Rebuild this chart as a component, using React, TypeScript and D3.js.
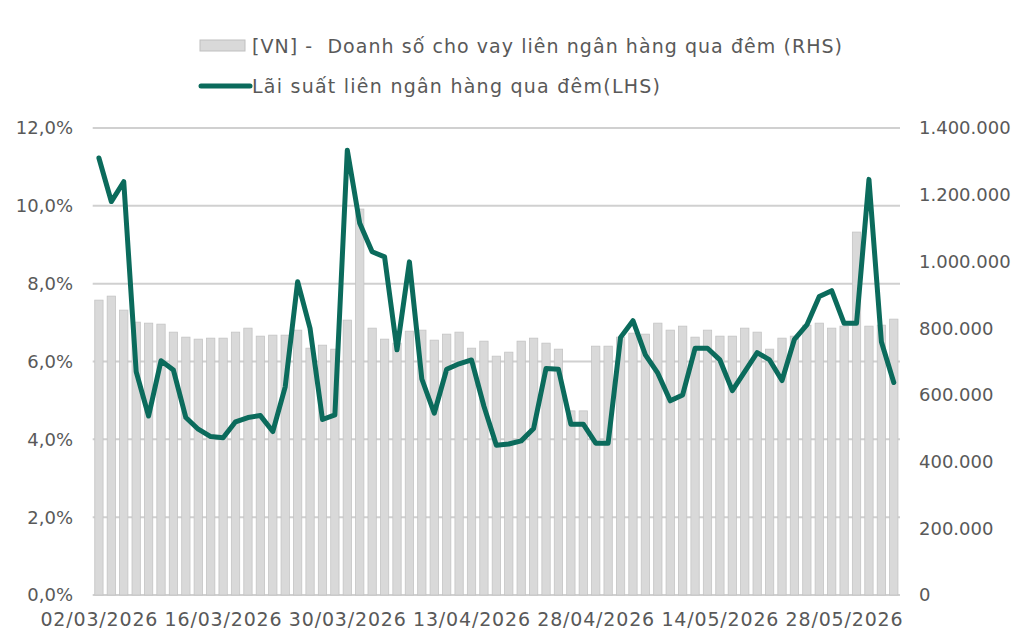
import React from "react";
import * as d3 from "d3";

const dates: string[] = [
  "02/03/2026","03/03/2026","04/03/2026","05/03/2026","06/03/2026",
  "09/03/2026","10/03/2026","11/03/2026","12/03/2026","13/03/2026",
  "16/03/2026","17/03/2026","18/03/2026","19/03/2026","20/03/2026",
  "23/03/2026","24/03/2026","25/03/2026","26/03/2026","27/03/2026",
  "30/03/2026","31/03/2026","01/04/2026","02/04/2026","03/04/2026",
  "06/04/2026","07/04/2026","08/04/2026","09/04/2026","10/04/2026",
  "13/04/2026","14/04/2026","15/04/2026","16/04/2026","17/04/2026",
  "20/04/2026","21/04/2026","22/04/2026","23/04/2026","24/04/2026",
  "28/04/2026","29/04/2026","04/05/2026","05/05/2026","06/05/2026",
  "07/05/2026","08/05/2026","11/05/2026","12/05/2026","13/05/2026",
  "14/05/2026","15/05/2026","18/05/2026","19/05/2026","20/05/2026",
  "21/05/2026","22/05/2026","25/05/2026","26/05/2026","27/05/2026",
  "28/05/2026","29/05/2026","01/06/2026","02/06/2026","03/06/2026",
];

// Doanh số cho vay liên ngân hàng qua đêm (RHS)
const volume: number[] = [
  884000, 896000, 854000, 818000, 815000, 812000, 788000, 773000, 767000, 770000,
  770000, 788000, 800000, 776000, 779000, 779000, 794000, 740000, 749000, 737000,
  824000, 1157000, 800000, 767000, 755000, 791000, 794000, 764000, 782000, 788000,
  740000, 761000, 716000, 728000, 761000, 770000, 755000, 737000, 552000, 552000,
  746000, 746000, 773000, 785000, 782000, 815000, 794000, 806000, 773000, 794000,
  776000, 776000, 800000, 788000, 737000, 770000, 776000, 809000, 815000, 800000,
  806000, 1088000, 806000, 809000, 827000,
];

// Lãi suất liên ngân hàng qua đêm (LHS), %
const rate: number[] = [
  11.23, 10.11, 10.62, 5.74, 4.6, 6.02, 5.78, 4.56, 4.26, 4.07,
  4.04, 4.45, 4.56, 4.61, 4.2, 5.35, 8.05, 6.85, 4.51, 4.63,
  11.43, 9.55, 8.82, 8.69, 6.3, 8.56, 5.55, 4.67, 5.8, 5.94,
  6.04, 4.85, 3.85, 3.88, 3.96, 4.28, 5.82, 5.8, 4.39, 4.39,
  3.9, 3.9, 6.62, 7.05, 6.17, 5.7, 4.99, 5.14, 6.34, 6.34,
  6.04, 5.25, 5.74, 6.23, 6.04, 5.51, 6.57, 6.94, 7.67, 7.82,
  6.98, 6.98, 10.68, 6.51, 5.46,
];

const leftTicks: number[] = [0, 2, 4, 6, 8, 10, 12];
const rightTicks: number[] = [0, 200000, 400000, 600000, 800000, 1000000, 1200000, 1400000];

const barLegend = "[VN] -  Doanh số cho vay liên ngân hàng qua đêm (RHS)";
const lineLegend = "Lãi suất liên ngân hàng qua đêm(LHS)";

const W = 1025;
const H = 632;
const plotLeft = 92.7;
const plotRight = 900;
const plotTop = 128;
const plotBottom = 595;
const FONT = "'DejaVu Sans', sans-serif";
const GREEN = "#0b6b5c";

export default function App() {
  const x = d3
    .scaleBand<string>()
    .domain(dates)
    .range([plotLeft, plotRight])
    .paddingInner(0.33)
    .paddingOuter(0.165);
  const yL = d3.scaleLinear().domain([0, 12]).range([plotBottom, plotTop]);
  const yR = d3.scaleLinear().domain([0, 1400000]).range([plotBottom, plotTop]);

  const line = d3
    .line<number>()
    .x((_, i) => (x(dates[i]) as number) + x.bandwidth() / 2)
    .y((d) => yL(d));

  const fmtL = (v: number) => v.toFixed(1).replace(".", ",") + "%";
  const fmtR = (v: number) =>
    v === 0 ? "0" : d3.format(",")(v).replace(/,/g, ".");

  return (
    <svg
      width={W}
      height={H}
      style={{ position: "absolute", left: 0, top: 0, background: "#fff" }}
      fontFamily={FONT}
    >
      {/* legend */}
      <rect x={200} y={40} width={45} height={11} fill="#d9d9d9" stroke="#bfbfbf" strokeWidth={1} />
      <text
        x={252}
        y={53}
        fontSize={19}
        fill="#595959"
        textLength={590}
        lengthAdjust="spacing"
        style={{ whiteSpace: "pre" }}
      >
        {barLegend}
      </text>
      <line x1={201} x2={250} y1={86} y2={86} stroke={GREEN} strokeWidth={5} strokeLinecap="round" />
      <text
        x={252}
        y={93}
        fontSize={19}
        fill="#595959"
        textLength={408}
        lengthAdjust="spacing"
      >
        {lineLegend}
      </text>

      {/* gridlines */}
      {leftTicks.map((t) => (
        <line
          key={"g" + t}
          x1={plotLeft}
          x2={plotRight}
          y1={yL(t)}
          y2={yL(t)}
          stroke="#d0d0d0"
          strokeWidth={2}
        />
      ))}

      {/* bars */}
      {volume.map((v, i) => (
        <rect
          key={"b" + i}
          x={x(dates[i]) as number}
          y={yR(v)}
          width={x.bandwidth()}
          height={plotBottom - yR(v)}
          fill="#d9d9d9"
          stroke="#c4c4c4"
          strokeWidth={0.8}
        />
      ))}

      {/* line */}
      <path
        d={line(rate) || ""}
        fill="none"
        stroke={GREEN}
        strokeWidth={5}
        strokeLinejoin="round"
        strokeLinecap="round"
      />

      {/* left axis labels */}
      {leftTicks.map((t) => (
        <text
          key={"l" + t}
          x={73}
          y={yL(t)}
          dy="0.36em"
          textAnchor="end"
          fontSize={18}
          fill="#595959"
        >
          {fmtL(t)}
        </text>
      ))}

      {/* right axis labels */}
      {rightTicks.map((t) => (
        <text
          key={"r" + t}
          x={919}
          y={yR(t)}
          dy="0.36em"
          textAnchor="start"
          fontSize={18}
          fill="#595959"
        >
          {fmtR(t)}
        </text>
      ))}

      {/* x axis labels */}
      {dates.map((d, i) =>
        i % 10 === 0 ? (
          <text
            key={"x" + i}
            x={(x(d) as number) + x.bandwidth() / 2}
            y={626}
            textAnchor="middle"
            fontSize={19}
            fill="#595959"
            textLength={117}
            lengthAdjust="spacing"
          >
            {d}
          </text>
        ) : null
      )}
    </svg>
  );
}
